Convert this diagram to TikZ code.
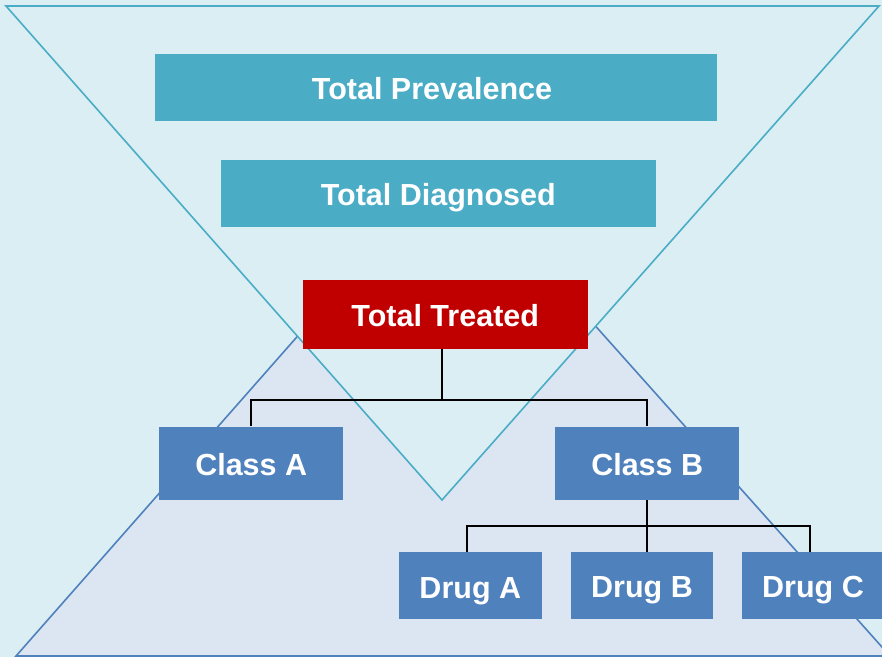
\documentclass[tikz,border=0pt]{standalone}
\usepackage{fontspec}
\setmainfont{Liberation Sans}
\definecolor{bgcyan}{RGB}{219,238,244}
\definecolor{bglav}{RGB}{220,230,242}
\definecolor{tealbox}{RGB}{75,172,198}
\definecolor{bluebox}{RGB}{79,129,189}
\definecolor{redbox}{RGB}{192,0,0}
\tikzset{
  box/.style={inner sep=0pt, text=white, text height=24.6pt, text depth=0pt,
              font=\fontsize{30.5}{36}\selectfont\bfseries},
  tealstep/.style={box, fill=tealbox},
  redstep/.style={box, fill=redbox},
  bluestep/.style={box, fill=bluebox},
  link/.style={black, line width=1.8pt},
  edge/.style={line width=1.6pt, line join=miter},
}
\begin{document}
\begin{tikzpicture}[x=1pt, y=-1pt]
  % canvas
  \clip (0,0) rectangle (882,657);
  \fill[bgcyan] (0,0) rectangle (882,657);

  % upright triangle behind
  \filldraw[edge, fill=bglav, draw=bluebox]
    (450,163) -- (16,656) -- (890,656) -- cycle;

  % inverted triangle in front
  \filldraw[edge, fill=bgcyan, draw=tealbox]
    (6,6) -- (879,6) -- (442,500) -- cycle;

  % boxes
  \node[tealstep, minimum width=562pt, minimum height=67pt]   (tp) at (436,87.5)  {\hspace*{-8pt}Total Prevalence};
  \node[tealstep, minimum width=434.7pt, minimum height=67.3pt] (td) at (438.3,193.6) {Total Diagnosed};
  \node[redstep,  minimum width=285pt, minimum height=69pt]   (tt) at (445.2,314.5) {Total Treated};
  \node[bluestep, minimum width=184.3pt, minimum height=73.3pt] (ca) at (251.2,463.3) {Class A};
  \node[bluestep, minimum width=184.3pt, minimum height=73.3pt] (cb) at (647.2,463.3) {Class B};
  \node[bluestep, minimum width=142.7pt, minimum height=67pt] (da) at (470.3,585.8) {Drug A};
  \node[bluestep, minimum width=142pt, minimum height=67pt]   (db) at (642,585.5) {Drug B};
  \node[bluestep, minimum width=142pt, minimum height=67pt]   (dc) at (813,585.5) {Drug C};

  % tree connectors
  \coordinate (busA) at (442,400);
  \coordinate (busB) at (647,525.7);
  \draw[link] (tt.south -| busA) -- (busA);
  \draw[link] (ca.north) |- (busA) -| (cb.north);
  \draw[link] (cb.south) -- (db.north -| cb.south);
  \draw[link] ([xshift=-3.5pt]da.north) |- (busB) -| ([xshift=-3pt]dc.north);
\end{tikzpicture}
\end{document}
